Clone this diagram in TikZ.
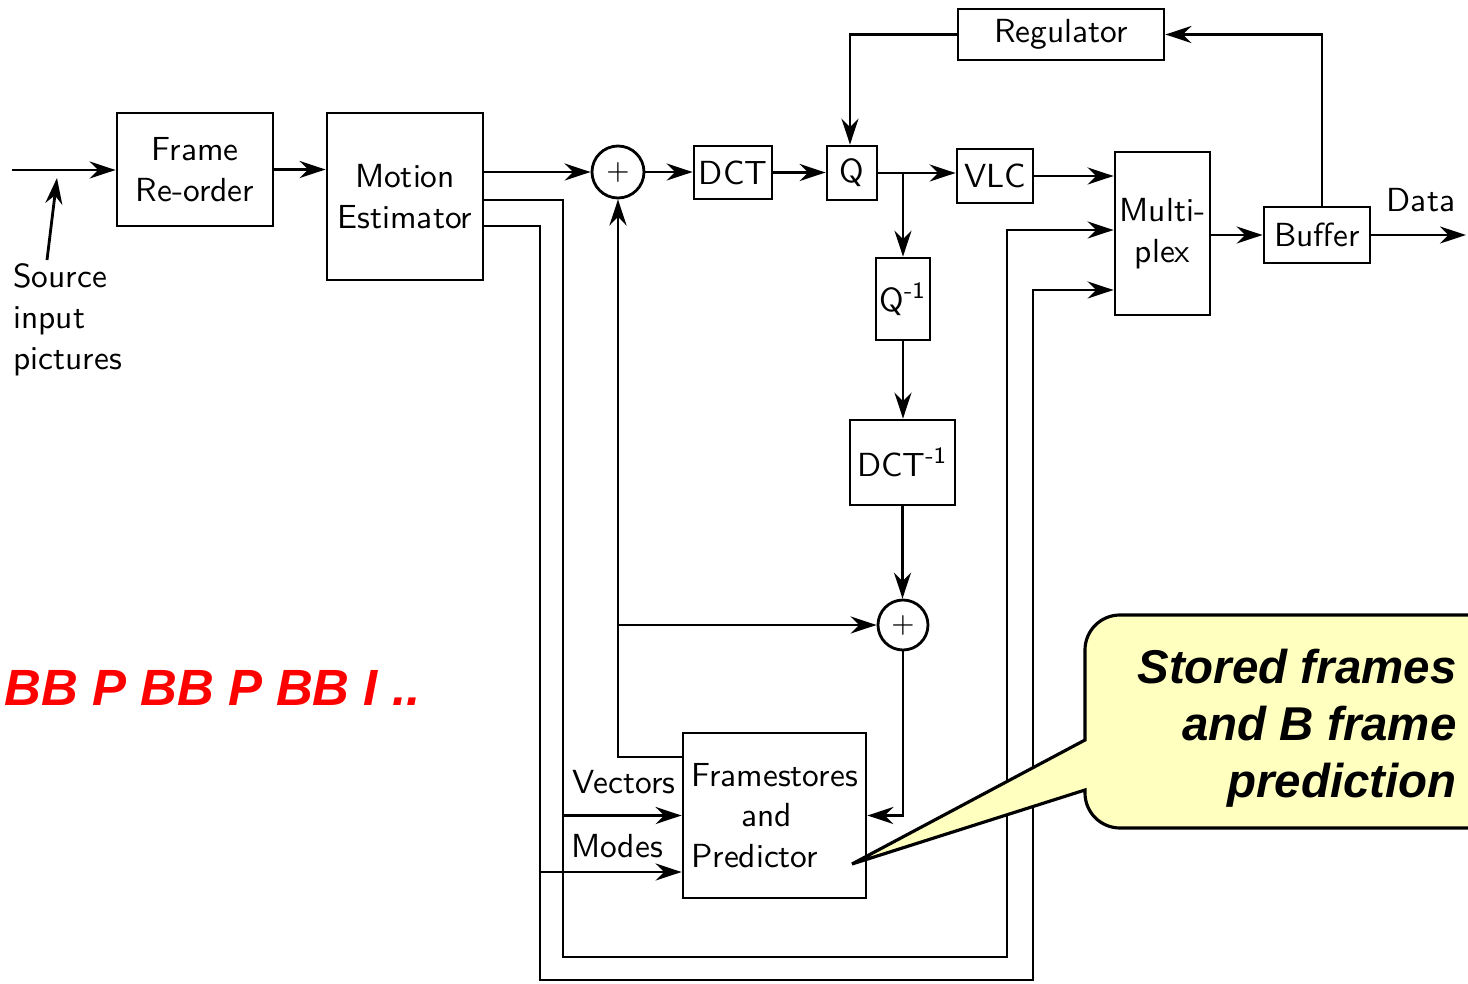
\documentclass[tikz,border=0pt]{standalone}
\usepackage{fontspec}
\newfontfamily\notefont{Liberation Sans}
\usetikzlibrary{arrows.meta, calc, positioning}
\definecolor{notefill}{HTML}{FFFFC0}

\begin{document}
\begin{tikzpicture}[>={Stealth[length=2.6mm,width=1.7mm]}, line width=0.8pt,
  blk/.style={draw, inner sep=1pt, align=center, font=\sffamily\fontsize{9.5}{11.5}\selectfont},
  sum/.style={draw, circle, minimum size=0.52cm, inner sep=0pt, font=\sffamily\footnotesize},
  lbl/.style={inner sep=0pt, font=\sffamily\fontsize{9.5}{11.7}\selectfont}]
  \clip (0,0) rectangle (14.68,-9.84);
  \fill[white] (0,0) rectangle (14.68,-9.84);

  % blocks
  \node[blk, minimum width=1.56cm, minimum height=1.13cm] (frame) at (1.95,-1.695) {Frame\\Re-order};
  \node[blk, minimum width=1.56cm, minimum height=1.67cm] (motion) at (4.05,-1.965) {Motion\\Estimator};
  \node[sum] (plus1) at (6.18,-1.72) {$+$};
  \node[blk, minimum width=0.78cm, minimum height=0.53cm] (dct) at (7.33,-1.725) {DCT};
  \node[blk, minimum width=0.50cm, minimum height=0.54cm] (q) at (8.52,-1.73) {Q};
  \node[blk, minimum width=0.76cm, minimum height=0.54cm] (vlc) at (9.95,-1.76) {VLC};
  \node[blk, minimum width=0.95cm, minimum height=1.63cm] (mux) at (11.625,-2.335) {Multi-\\plex};
  \node[blk, minimum width=1.06cm, minimum height=0.56cm] (buffer) at (13.17,-2.35) {Buffer};
  \node[blk, minimum width=2.06cm, minimum height=0.51cm] (regulator) at (10.61,-0.345) {Regulator};
  \node[blk, minimum width=0.50cm, minimum height=0.82cm] (qinv) at (9.03,-2.99) {Q\textsuperscript{-1}};
  \node[blk, minimum width=1.05cm, minimum height=0.85cm] (dctinv) at (9.025,-4.625) {DCT\textsuperscript{-1}};
  \node[sum, minimum size=0.50cm] (plus2) at (9.03,-6.25) {$+$};
  \node[blk, align=left, minimum width=1.83cm, minimum height=1.65cm] (fs) at (7.745,-8.155)
    {Framestores\\\quad\enspace and\\Predictor};

  % labels
  \node[lbl, align=left, anchor=north west] (src) at (0.12,-2.62) {Source\\input\\pictures};
  \node[lbl] (datalbl) at (14.21,-2.00) {Data};
  \node[lbl] (vectors) at (6.24,-7.82) {Vectors};
  \node[lbl] (modes) at (6.17,-8.46) {Modes};
  \coordinate (in) at (0.12,-1.70);
  \coordinate (srcin) at (0.57,-1.78);
  \coordinate (dataend) at (14.66,-2.35);

  % forward path
  \draw[->] (in) -- (in -| frame.west);
  \draw[->] ($(src.north west)+(0.35,0.02)$) -- (srcin);
  \draw[->] (frame.east) -- (frame.east -| motion.west);
  \draw[->] (motion.east |- plus1) -- (plus1.west);
  \draw[->] (plus1.east) -- (plus1.east -| dct.west);
  \draw[->] (dct.east) -- (dct.east -| q.west);
  \draw[->] (q.east) -- (q.east -| vlc.west);
  \draw[->] (vlc.east) -- (vlc.east -| mux.west);
  \draw[->] (mux.east |- buffer) -- (buffer.west);
  \draw[->] (buffer.east) -- (dataend);

  % rate control
  \draw[->] ($(buffer.north)+(0.05,0)$) |- (regulator.east);
  \draw[->] (regulator.west) -| ($(q.north)+(-0.02,0)$);

  % local decoder
  \draw[->] (q.east -| qinv.north) -- (qinv.north);
  \draw[->] (qinv.south) -- (qinv.south |- dctinv.north);
  \draw[->] (dctinv.south) -- (dctinv.south |- plus2.north);
  \draw[->] (plus2.south) |- (fs.east);
  \draw[->] ($(fs.west)+(0,0.585)$) -| (plus1.south);
  \draw[->] (plus1.south |- plus2) -- (plus2.west);

  % vectors and modes
  \draw[->] ($(motion.east)+(0,-0.035)$) -| (5.63,-9.57) -| (10.07,-2.30) -- (mux.west |- 0,-2.30);
  \draw[->] ($(motion.east)+(0,-0.295)$) -| (5.40,-9.80) -| (10.33,-2.90) -- (mux.west |- 0,-2.90);
  \draw[->] ($(fs.west)+(-1.20,0)$) -- (fs.west);
  \draw[->] ($(fs.west)+(-1.43,-0.565)$) -- ($(fs.west)+(0,-0.565)$);

  % frame order and note
  \node[anchor=base west, inner sep=0pt, text=red, font=\notefont\bfseries\itshape\fontsize{14.5}{17}\selectfont]
    (order) at (0.03,-7.05) {BB P BB P BB I ..};
  \draw[fill=notefill, line width=0.9pt] (10.85,-7.40) [rounded corners=0.35cm] -- (10.85,-6.15) -- (15.2,-6.15)
    -- (15.2,-8.28) -- (10.85,-8.28) [sharp corners] -- (10.85,-7.90) -- (8.52,-8.64) -- cycle;
  \node[anchor=north east, align=right, inner sep=0pt, font=\notefont\bfseries\itshape\fontsize{13.5}{16.2}\selectfont]
    (note) at (14.58,-6.48) {Stored frames\\and B frame\\prediction};
\end{tikzpicture}
\end{document}
